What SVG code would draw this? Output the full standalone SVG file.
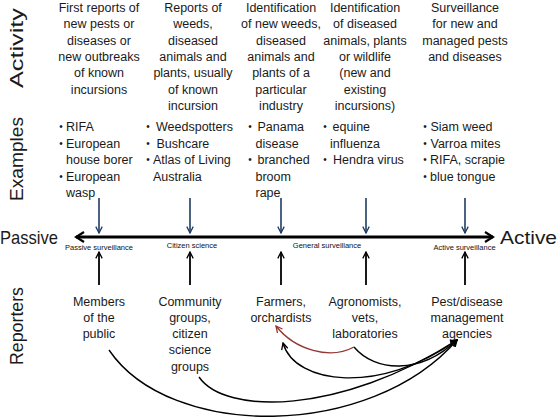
<svg xmlns="http://www.w3.org/2000/svg" width="559" height="420" viewBox="0 0 559 420">
<style>
text{font-family:"Liberation Sans",Arial,sans-serif;fill:#1a1a1a}
.t{font-size:12.5px;text-anchor:middle}
.e{font-size:12.5px}
.b{font-size:10px;text-anchor:middle}
.s{font-size:7.5px;text-anchor:middle;fill:#111}
.big{font-size:19px;text-anchor:middle}
.nav{stroke:#1f3b63;stroke-width:1.6;fill:none}
.up{stroke:#000;stroke-width:1.8;fill:none}
.cv{stroke:#000;stroke-width:1.4;fill:none}
</style>
<defs>
<marker id="mA" viewBox="0 0 12 12" refX="10" refY="6" markerWidth="12" markerHeight="12" markerUnits="userSpaceOnUse" orient="auto-start-reverse"><path d="M2,1 L10,6 L2,11" fill="none" stroke="#000" stroke-width="2.2"/></marker>
<marker id="mN" viewBox="0 0 10 10" refX="9" refY="5" markerWidth="8" markerHeight="8" markerUnits="userSpaceOnUse" orient="auto"><path d="M1,1 L9,5 L1,9" fill="none" stroke="#1f3b63" stroke-width="1.6"/></marker>
<marker id="mB" viewBox="0 0 10 10" refX="9" refY="5" markerWidth="8" markerHeight="8" markerUnits="userSpaceOnUse" orient="auto-start-reverse"><path d="M1,1 L9,5 L1,9" fill="none" stroke="#000" stroke-width="1.6"/></marker>
<marker id="mR" viewBox="0 0 10 10" refX="9" refY="5" markerWidth="8" markerHeight="8" markerUnits="userSpaceOnUse" orient="auto"><path d="M1,1 L9,5 L1,9" fill="none" stroke="#953735" stroke-width="1.6"/></marker>
</defs>

<g id="row-labels">
<text class="big" transform="translate(23,48) rotate(-90)" textLength="80" lengthAdjust="spacingAndGlyphs">Activity</text>
<text class="big" transform="translate(23,159) rotate(-90)" textLength="84" lengthAdjust="spacingAndGlyphs">Examples</text>
<text class="big" transform="translate(23,326) rotate(-90)" textLength="78" lengthAdjust="spacingAndGlyphs">Reporters</text>
</g>

<g id="activity-1"><text class="t"><tspan x="99" y="12">First reports of</tspan><tspan x="99" y="28.3">new pests or</tspan><tspan x="99" y="44.6">diseases or</tspan><tspan x="99" y="60.9">new outbreaks</tspan><tspan x="99" y="77.2">of known</tspan><tspan x="99" y="93.5">incursions</tspan></text></g>
<g id="activity-2"><text class="t"><tspan x="193" y="12">Reports of</tspan><tspan x="193" y="28.3">weeds,</tspan><tspan x="193" y="44.6">diseased</tspan><tspan x="193" y="60.9">animals and</tspan><tspan x="193" y="77.2">plants, usually</tspan><tspan x="193" y="93.5">of known</tspan><tspan x="193" y="109.8">incursion</tspan></text></g>
<g id="activity-3"><text class="t"><tspan x="281" y="12">Identification</tspan><tspan x="281" y="28.3">of new weeds,</tspan><tspan x="281" y="44.6">diseased</tspan><tspan x="281" y="60.9">animals and</tspan><tspan x="281" y="77.2">plants of a</tspan><tspan x="281" y="93.5">particular</tspan><tspan x="281" y="109.8">industry</tspan></text></g>
<g id="activity-4"><text class="t"><tspan x="365" y="12">Identification</tspan><tspan x="365" y="28.3">of diseased</tspan><tspan x="365" y="44.6">animals, plants</tspan><tspan x="365" y="60.9">or wildlife</tspan><tspan x="365" y="77.2">(new and</tspan><tspan x="365" y="93.5">existing</tspan><tspan x="365" y="109.8">incursions)</tspan></text></g>
<g id="activity-5"><text class="t"><tspan x="465" y="12">Surveillance</tspan><tspan x="465" y="28.3">for new and</tspan><tspan x="465" y="44.6">managed pests</tspan><tspan x="465" y="60.9">and diseases</tspan></text></g>

<g id="examples-1">
<text class="b" x="61" y="130">•</text><text class="e" x="66" y="131">RIFA</text>
<text class="b" x="61" y="146.5">•</text><text class="e" x="66" y="147.5">European</text>
<text class="e" x="66" y="164">house borer</text>
<text class="b" x="61" y="179.5">•</text><text class="e" x="66" y="180.5">European</text>
<text class="e" x="66" y="197">wasp</text>
</g>
<g id="examples-2">
<text class="b" x="148" y="130">•</text><text class="e" x="156" y="131">Weedspotters</text>
<text class="b" x="148" y="146.5">•</text><text class="e" x="156.5" y="147.5">Bushcare</text>
<text class="b" x="148" y="163">•</text><text class="e" x="153" y="164">Atlas of Living</text>
<text class="e" x="153" y="180.5">Australia</text>
</g>
<g id="examples-3">
<text class="b" x="250" y="130">•</text><text class="e" x="257.5" y="131">Panama</text>
<text class="e" x="255.5" y="147.5">disease</text>
<text class="b" x="250" y="163">•</text><text class="e" x="257.5" y="164">branched</text>
<text class="e" x="255.5" y="180.5">broom</text>
<text class="e" x="255.5" y="197">rape</text>
</g>
<g id="examples-4">
<text class="b" x="325" y="130">•</text><text class="e" x="332.5" y="131">equine</text>
<text class="e" x="330" y="147.5">influenza</text>
<text class="b" x="325" y="163">•</text><text class="e" x="333" y="164">Hendra virus</text>
</g>
<g id="examples-5">
<text class="b" x="425" y="130">•</text><text class="e" x="430.5" y="131">Siam weed</text>
<text class="b" x="425" y="146.5">•</text><text class="e" x="430.5" y="147.5">Varroa mites</text>
<text class="b" x="425" y="163">•</text><text class="e" x="430" y="164">RIFA, scrapie</text>
<text class="b" x="425" y="179.5">•</text><text class="e" x="430" y="180.5">blue tongue</text>
</g>

<g id="axis">
<text x="0" y="244" font-size="19" textLength="58" lengthAdjust="spacingAndGlyphs">Passive</text>
<text x="500" y="244" font-size="19" textLength="57" lengthAdjust="spacingAndGlyphs">Active</text>
<text class="s" x="99" y="250">Passive surveillance</text>
<text class="s" x="192" y="248">Citizen science</text>
<text class="s" x="327" y="248">General surveillance</text>
<text class="s" x="464.5" y="249.5">Active surveillance</text>
</g>

<g id="reporter-members"><text class="t"><tspan x="99" y="305.5">Members</tspan><tspan x="99" y="321.5">of the</tspan><tspan x="99" y="338">public</tspan></text></g>
<g id="reporter-community"><text class="t"><tspan x="190" y="305.5">Community</tspan><tspan x="190" y="321.5">groups,</tspan><tspan x="190" y="338">citizen</tspan><tspan x="190" y="354">science</tspan><tspan x="190" y="370.5">groups</tspan></text></g>
<g id="reporter-farmers"><text class="t"><tspan x="281" y="305.5">Farmers,</tspan><tspan x="281" y="321.5">orchardists</tspan></text></g>
<g id="reporter-agronomists"><text class="t"><tspan x="365" y="305.5">Agronomists,</tspan><tspan x="365" y="321.5">vets,</tspan><tspan x="365" y="338">laboratories</tspan></text></g>
<g id="reporter-agencies"><text class="t"><tspan x="467" y="305.5">Pest/disease</tspan><tspan x="467" y="321.5">management</tspan><tspan x="467" y="338">agencies</tspan></text></g>

<g id="connectors">
<line x1="76" y1="237" x2="493" y2="237" stroke="#000" stroke-width="3" marker-start="url(#mA)" marker-end="url(#mA)"/>
<line class="nav" x1="99" y1="198" x2="99" y2="233" marker-end="url(#mN)"/>
<line class="nav" x1="190" y1="198" x2="190" y2="233" marker-end="url(#mN)"/>
<line class="nav" x1="281" y1="198" x2="281" y2="233" marker-end="url(#mN)"/>
<line class="nav" x1="366" y1="198" x2="366" y2="233" marker-end="url(#mN)"/>
<line class="nav" x1="465" y1="198" x2="465" y2="233" marker-end="url(#mN)"/>
<line class="up" x1="99" y1="285" x2="99" y2="252" marker-end="url(#mB)"/>
<line class="up" x1="190" y1="285" x2="190" y2="252" marker-end="url(#mB)"/>
<line class="up" x1="281" y1="285" x2="281" y2="252" marker-end="url(#mB)"/>
<line class="up" x1="366" y1="285" x2="366" y2="252" marker-end="url(#mB)"/>
<line class="up" x1="465" y1="285" x2="465" y2="252" marker-end="url(#mB)"/>
<path class="cv" d="M109,350 C170,440 370,440 457,340" marker-end="url(#mB)"/>
<path class="cv" d="M199,377 C225,415 340,415 457,340" marker-end="url(#mB)"/>
<path class="cv" d="M283,343 C295,385 380,395 457,340" marker-start="url(#mB)" marker-end="url(#mB)"/>
<path class="cv" d="M354,347 C375,372 420,375 457,340" marker-end="url(#mB)"/>
<path d="M354,347 C330,360 295,350 276,326" fill="none" stroke="#953735" stroke-width="1.4" marker-end="url(#mR)"/>
</g>
</svg>
